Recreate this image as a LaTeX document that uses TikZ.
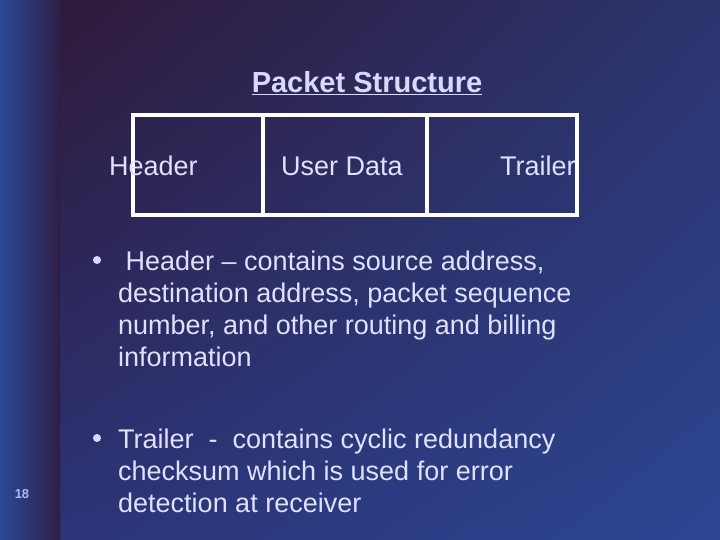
\documentclass[tikz,border=0pt]{standalone}
\usepackage{fontspec}
\setmainfont{Liberation Sans}
\usetikzlibrary{shadings}
\definecolor{bgUL}{RGB}{46,26,58}
\definecolor{bgUR}{RGB}{44,52,110}
\definecolor{bgLL}{RGB}{44,52,120}
\definecolor{bgLR}{RGB}{44,70,146}
\definecolor{stL}{RGB}{42,74,150}
\definecolor{stR}{RGB}{46,30,70}
\begin{document}
\begin{tikzpicture}[x=1pt,y=-1pt,
  txt/.style={text=white!88!blue, font=\fontsize{27}{32}\selectfont, inner sep=0pt, anchor=base west},
  cell/.style={draw=white, line width=4.5pt, inner sep=0pt},
  dot/.style={circle, fill=white!85!blue, inner sep=0pt, minimum size=8pt}]
\useasboundingbox (0,0) rectangle (720,540);
\shade[upper left=bgUL, upper right=bgUR, lower left=bgLL, lower right=bgLR]
  (60,0) rectangle (720,540);
\shade[left color=stL, right color=stR] (0,0) rectangle (60,540);
\node[anchor=base, text=white!85!blue, font=\fontsize{29}{34}\selectfont\bfseries] (title) at (367,93) {\underline{Packet Structure}};
\node[cell, minimum width=130pt, minimum height=100pt] (c1) at (198,165) {};
\node[cell, minimum width=164pt, minimum height=100pt] (c2) at (345,165) {};
\node[cell, minimum width=150pt, minimum height=100pt] (c3) at (502,165) {};
\node[txt] (h) at (109,176) {Header};
\node[txt] (u) at (281,176) {User Data};
\node[txt] (t) at (500,176) {Trailer};
\node[dot] (d1) at (97,260) {};
\node[txt] (a1) at (118,270) {\ Header -- contains source address,};
\node[txt] (a2) at (118,302) {destination address, packet sequence};
\node[txt] (a3) at (118,334) {number, and other routing and billing};
\node[txt] (a4) at (118,366) {information};
\node[dot] (d2) at (97,438) {};
\node[txt] (b1) at (118,448) {Trailer\ \ -\ \ contains cyclic redundancy};
\node[txt] (b2) at (118,480) {checksum which is used for error};
\node[txt] (b3) at (118,512) {detection at receiver};
\node[anchor=base, text=white!70!blue, font=\fontsize{13}{15}\selectfont\bfseries] (n) at (22,498) {18};
\end{tikzpicture}
\end{document}
